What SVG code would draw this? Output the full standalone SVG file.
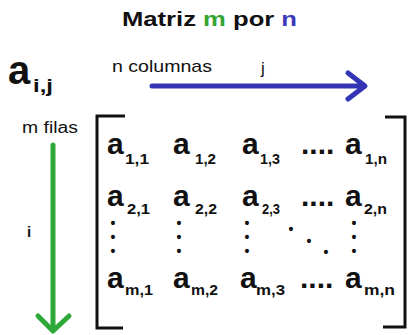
<svg xmlns="http://www.w3.org/2000/svg" width="409" height="335" viewBox="0 0 409 335">
<style>
text{font-family:"Liberation Sans",Arial,sans-serif;fill:#111}
.b{font-weight:bold}
.big{font-size:30px;font-weight:bold}
.sub{font-size:14px;font-weight:bold}
.dot{font-size:30px;font-weight:bold}
.bul{font-size:14px;font-weight:bold}
.br{fill:none;stroke:#111;stroke-width:3}
.arr{fill:none;stroke-width:5;stroke-linecap:round;stroke-linejoin:round}
</style>
<rect width="409" height="335" fill="#fff"/>
<g id="title"><text x="122" y="26" class="b" font-size="21" textLength="175" lengthAdjust="spacingAndGlyphs">Matriz <tspan fill="#33a532">m</tspan> por <tspan fill="#3a3ab8">n</tspan></text></g>
<g id="aij"><text x="8" y="84" class="b" font-size="40">a</text><text x="33" y="92" class="b" font-size="18" textLength="20" lengthAdjust="spacingAndGlyphs">i,j</text></g>
<g id="labels">
<text x="112" y="72" font-size="17" textLength="100" lengthAdjust="spacingAndGlyphs">n columnas</text>
<text x="261" y="74" font-size="17">j</text>
<text x="22" y="133" font-size="16" textLength="56" lengthAdjust="spacingAndGlyphs">m filas</text>
<text x="27" y="237" font-size="15" class="b">i</text>
</g>
<g id="connectors">
<path class="arr" stroke="#3434b6" d="M152,86 H363 M348,73 L365,86 L348,99"/>
<path class="arr" stroke="#2fa83a" d="M53,145 V328 M38,316 L53,331 L69,316"/>
</g>
<g id="brackets">
<path class="br" d="M125,116 H97 V328 H123"/>
<path class="br" d="M385,117 H405 V327 H383"/>
</g>
<g id="row1">
<g id="a11"><text x="107" y="154" class="big">a</text><text x="125" y="164" class="sub" textLength="24" lengthAdjust="spacingAndGlyphs">1,1</text></g>
<g id="a12"><text x="173" y="154" class="big">a</text><text x="195" y="164" class="sub" textLength="21" lengthAdjust="spacingAndGlyphs">1,2</text></g>
<g id="a13"><text x="242" y="154" class="big">a</text><text x="260" y="164" class="sub" textLength="20" lengthAdjust="spacingAndGlyphs">1,3</text></g>
<g id="d1"><text x="301" y="154" class="dot">....</text></g>
<g id="a1n"><text x="345" y="154" class="big">a</text><text x="365" y="164" class="sub" textLength="22" lengthAdjust="spacingAndGlyphs">1,n</text></g>
</g>
<g id="row2">
<g id="a21"><text x="107" y="206" class="big">a</text><text x="127" y="214" class="sub" textLength="23" lengthAdjust="spacingAndGlyphs">2,1</text></g>
<g id="a22"><text x="173" y="206" class="big">a</text><text x="195" y="214" class="sub" textLength="22" lengthAdjust="spacingAndGlyphs">2,2</text></g>
<g id="a23"><text x="242" y="206" class="big">a</text><text x="262" y="214" class="sub" textLength="18" lengthAdjust="spacingAndGlyphs">2,3</text></g>
<g id="d2"><text x="301" y="206" class="dot">....</text></g>
<g id="a2n"><text x="345" y="206" class="big">a</text><text x="364" y="214" class="sub" textLength="23" lengthAdjust="spacingAndGlyphs">2,n</text></g>
</g>
<g id="vdots">
<text class="bul" x="110.5 110.5 110.5" y="228 242 256">•••</text>
<text class="bul" x="176.5 176.5 176.5" y="228 242 256">•••</text>
<text class="bul" x="244.5 244.5 244.5" y="228 242 256">•••</text>
<text class="bul" x="288.5 306.5 323.5" y="234 246 257">•••</text>
<text class="bul" x="351.5 351.5 351.5" y="228 242 256">•••</text>
</g>
<g id="rowm">
<g id="am1"><text x="107" y="288" class="big">a</text><text x="125" y="295" class="sub" textLength="28" lengthAdjust="spacingAndGlyphs">m,1</text></g>
<g id="am2"><text x="173" y="288" class="big">a</text><text x="191" y="295" class="sub" textLength="27" lengthAdjust="spacingAndGlyphs">m,2</text></g>
<g id="am3"><text x="240" y="288" class="big">a</text><text x="256" y="295" class="sub" textLength="29" lengthAdjust="spacingAndGlyphs">m,3</text></g>
<g id="dm"><text x="300" y="288" class="dot">....</text></g>
<g id="amn"><text x="345" y="288" class="big">a</text><text x="364" y="295" class="sub" textLength="31" lengthAdjust="spacingAndGlyphs">m,n</text></g>
</g>
</svg>
